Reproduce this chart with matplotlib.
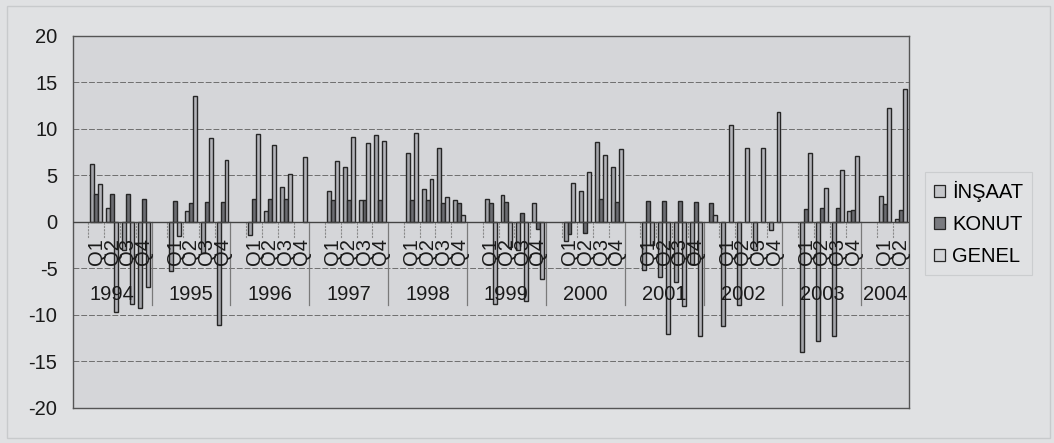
import numpy as np
import matplotlib
matplotlib.use("Agg")
import matplotlib.pyplot as plt
from matplotlib.patches import Rectangle, Patch

plt.rcParams['font.family'] = ['Liberation Sans', 'DejaVu Sans']
plt.rcParams['axes.unicode_minus'] = False

nan = np.nan

# Category layout: each year opens with an unlabeled slot, then its quarters
years = ['1994', '1995', '1996', '1997', '1998', '1999',
         '2000', '2001', '2002', '2003', '2004']
quarters_per_year = [4, 4, 4, 4, 4, 4, 4, 4, 4, 4, 2]
quarter_labels = ['Q1', 'Q2', 'Q3', 'Q4']

# Annual % change per slot (first slot of each year is the unlabeled one)
insaat = [
    nan, 6.2, 1.5, -3.0, -9.3,
    nan, -5.3, 1.2, -3.3, -11.1,
    nan, -1.4, 1.2, 3.7, nan,
    nan, 3.3, 5.9, 2.3, 9.4,
    nan, 7.4, 3.5, 8.0, 2.4,
    nan, 2.5, 2.9, -3.0, 2.0,
    nan, -2.1, 3.3, 8.6, 5.9,
    nan, -5.2, -5.9, -6.5, -4.5,
    nan, -11.2, -8.9, -3.0, -0.9,
    nan, -14.0, -12.8, -12.3, 1.2,
    nan, 2.8, 0.3,
]
konut = [
    nan, 3.0, 3.0, 3.0, 2.5,
    nan, 2.2, 2.0, 2.1, 2.1,
    nan, 2.5, 2.5, 2.5, nan,
    nan, 2.4, 2.4, 2.4, 2.4,
    nan, 2.4, 2.3, 2.0, 2.0,
    nan, 2.0, 2.1, 1.0, -0.75,
    nan, -1.3, -1.2, 2.5, 2.1,
    nan, 2.2, 2.2, 2.2, 2.1,
    2.0, nan, nan, nan, nan,
    nan, 1.4, 1.5, 1.5, 1.3,
    nan, 1.9, 1.3,
]
genel = [
    nan, 4.1, -9.7, -8.8, -7.0,
    nan, -1.5, 13.5, 9.0, 6.7,
    nan, 9.5, 8.3, 5.2, 7.0,
    nan, 6.6, 9.1, 8.5, 8.7,
    nan, 9.6, 4.6, 2.65, 0.7,
    nan, -8.8, -2.7, -8.5, -6.1,
    nan, 4.2, 5.4, 7.2, 7.8,
    nan, -2.5, -12.1, -9.1, -12.3,
    0.7, 10.4, 8.0, 8.0, 11.8,
    nan, 7.4, 3.6, 5.6, 7.1,
    nan, 12.3, 14.3,
]

series_names = ['İNŞAAT', 'KONUT', 'GENEL']
series_colors = ['#a4a5aa', '#6c6d72', '#b4b5ba']
legend_colors = ['#c4c5c9', '#7a7b80', '#d4d5d8']

bg_outer = '#e0e1e3'
bg_plot = '#d5d6d9'
edge = '#262626'
fs = 14.5

fig = plt.figure(figsize=(10.54, 4.43), dpi=100, facecolor=bg_outer)
ax = fig.add_axes([72.7 / 1054, 1 - 407.7 / 443, (908.6 - 72.7) / 1054, (407.7 - 36) / 443])
ax.set_facecolor(bg_plot)

n_slots = len(insaat)
x = np.arange(n_slots)
w = 0.25
for i, (vals, col) in enumerate(zip([insaat, konut, genel], series_colors)):
    ax.bar(x + (i - 1) * w, vals, width=w, color=col, edgecolor=edge,
           linewidth=1.0, zorder=3)

ax.set_xlim(-0.5, n_slots - 0.5)
ax.set_ylim(-20, 20)
ax.set_yticks(np.arange(-20, 21, 5))
ax.tick_params(axis='y', length=0, pad=11, labelsize=fs, labelcolor='#1a1a1a')
ax.set_xticks([])

for v in [-15, -10, -5, 5, 10, 15]:
    ax.axhline(v, color='#6e6e6e', lw=0.7, ls=(0, (6, 2)), zorder=1)
ax.axhline(0, color='#444444', lw=1.0, zorder=4)

for s in ax.spines.values():
    s.set_color('#555555')
    s.set_linewidth(1.0)

# Category labels: quarters rotated, years centered under their block
start = 0
for yr, nq in zip(years, quarters_per_year):
    for q in range(nq):
        cx = start + 1 + q
        ax.text(cx, -1.75, quarter_labels[q], rotation=90, ha='center', va='top',
                fontsize=fs, color='#1a1a1a', zorder=5)
        ax.plot([cx - 0.5, cx - 0.5], [0, -1.7], color='#8a8a8a', lw=0.8,
                ls=(0, (2, 1)), zorder=2)
    block_end = min(start + 5, n_slots) - 0.5
    ax.text((start - 0.5 + block_end) / 2, -7.85, yr, ha='center', va='center',
            fontsize=fs, color='#1a1a1a', zorder=5)
    if start > 0:
        ax.plot([start - 0.5, start - 0.5], [0, -9.0], color='#7a7a7a', lw=0.9,
                zorder=2)
    start += 5

handles = [Patch(facecolor=c, edgecolor=edge, linewidth=0.9) for c in legend_colors]
leg = fig.legend(handles, series_names, loc='upper left',
                 bbox_to_anchor=(925 / 1054, 1 - 172 / 443), fontsize=fs,
                 frameon=True, fancybox=False, handlelength=0.55, handleheight=0.55,
                 handletextpad=0.35, labelspacing=0.65, borderpad=0.45,
                 borderaxespad=0)
leg.get_frame().set_facecolor(bg_outer)
leg.get_frame().set_edgecolor('#c6c8ca')
leg.get_frame().set_linewidth(0.8)

fig.patches.append(Rectangle((7 / 1054, 5 / 443), 1043 / 1054, 432 / 443,
                             transform=fig.transFigure, fill=False,
                             edgecolor='#c8cacc', linewidth=1.0))

fig.savefig('out.png', dpi=100, facecolor=bg_outer)
